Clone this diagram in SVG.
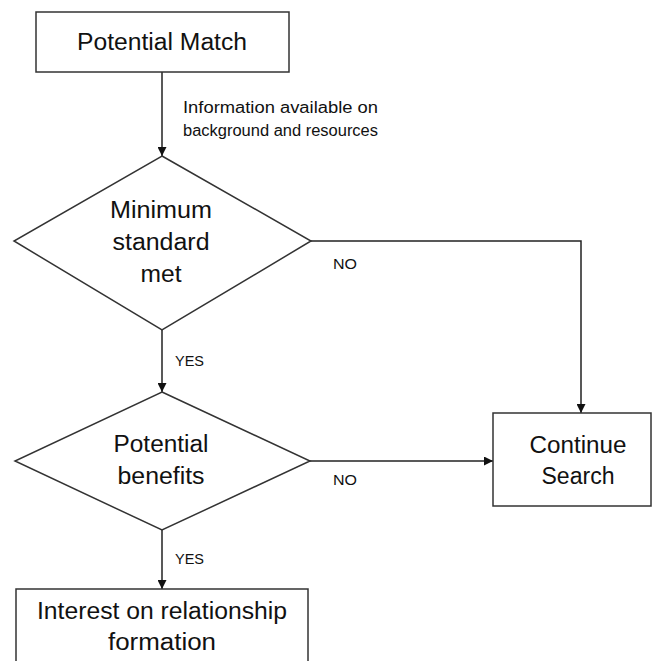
<svg xmlns="http://www.w3.org/2000/svg" width="654" height="661" viewBox="0 0 654 661">
<defs>
<marker id="ah" viewBox="0 0 10 10" refX="10" refY="5" markerWidth="9" markerHeight="9" markerUnits="userSpaceOnUse" orient="auto">
<path d="M0,0 L10,5 L0,10 z" fill="#111"/>
</marker>
<style>
.shape{fill:#fff;stroke:#333;stroke-width:1.5}
.main{font-family:"Liberation Sans",Arial,sans-serif;font-size:23px;fill:#111;text-anchor:middle}
.lbl{font-family:"Liberation Sans",Arial,sans-serif;font-size:16px;fill:#111}
.sm{font-family:"Liberation Sans",Arial,sans-serif;font-size:14px;fill:#111}
.conn{fill:none;stroke:#222;stroke-width:1.5}
</style>
</defs>
<rect width="654" height="661" fill="#fff"/>
<g id="connectors">
<line class="conn" x1="162" y1="72" x2="162" y2="156" marker-end="url(#ah)"/>
<polyline class="conn" points="311,241 581,241 581,413" marker-end="url(#ah)"/>
<line class="conn" x1="162" y1="330" x2="162" y2="392" marker-end="url(#ah)"/>
<line class="conn" x1="310" y1="461" x2="493" y2="461" marker-end="url(#ah)"/>
<line class="conn" x1="162" y1="530" x2="162" y2="589" marker-end="url(#ah)"/>
<text class="lbl" x="183" y="113" textLength="195" lengthAdjust="spacingAndGlyphs">Information available on</text>
<text class="lbl" x="183" y="136" textLength="195" lengthAdjust="spacingAndGlyphs">background and resources</text>
<text class="sm" x="333" y="269" textLength="24" lengthAdjust="spacingAndGlyphs">NO</text>
<text class="sm" x="175" y="366" textLength="29" lengthAdjust="spacingAndGlyphs">YES</text>
<text class="sm" x="333" y="485" textLength="24" lengthAdjust="spacingAndGlyphs">NO</text>
<text class="sm" x="175" y="564" textLength="29" lengthAdjust="spacingAndGlyphs">YES</text>
</g>
<g id="potential-match">
<rect class="shape" x="36" y="12" width="253" height="60"/>
<text class="main" x="162" y="50" textLength="170" lengthAdjust="spacingAndGlyphs">Potential Match</text>
</g>
<g id="minimum-standard">
<polygon class="shape" points="162,156 311,241 162,330 14,241"/>
<text class="main" x="161" y="218" textLength="102" lengthAdjust="spacingAndGlyphs">Minimum</text>
<text class="main" x="161" y="250" textLength="97" lengthAdjust="spacingAndGlyphs">standard</text>
<text class="main" x="161" y="282" textLength="41" lengthAdjust="spacingAndGlyphs">met</text>
</g>
<g id="potential-benefits">
<polygon class="shape" points="162,392 310,461 162,530 15,461"/>
<text class="main" x="161" y="452" textLength="95" lengthAdjust="spacingAndGlyphs">Potential</text>
<text class="main" x="161" y="484" textLength="87" lengthAdjust="spacingAndGlyphs">benefits</text>
</g>
<g id="continue-search">
<rect class="shape" x="493" y="413" width="158" height="93"/>
<text class="main" x="578" y="453" textLength="97" lengthAdjust="spacingAndGlyphs">Continue</text>
<text class="main" x="578" y="484" textLength="73" lengthAdjust="spacingAndGlyphs">Search</text>
</g>
<g id="interest">
<rect class="shape" x="16" y="589" width="292" height="80"/>
<text class="main" x="162" y="619" textLength="250" lengthAdjust="spacingAndGlyphs">Interest on relationship</text>
<text class="main" x="162" y="650" textLength="108" lengthAdjust="spacingAndGlyphs">formation</text>
</g>
</svg>
